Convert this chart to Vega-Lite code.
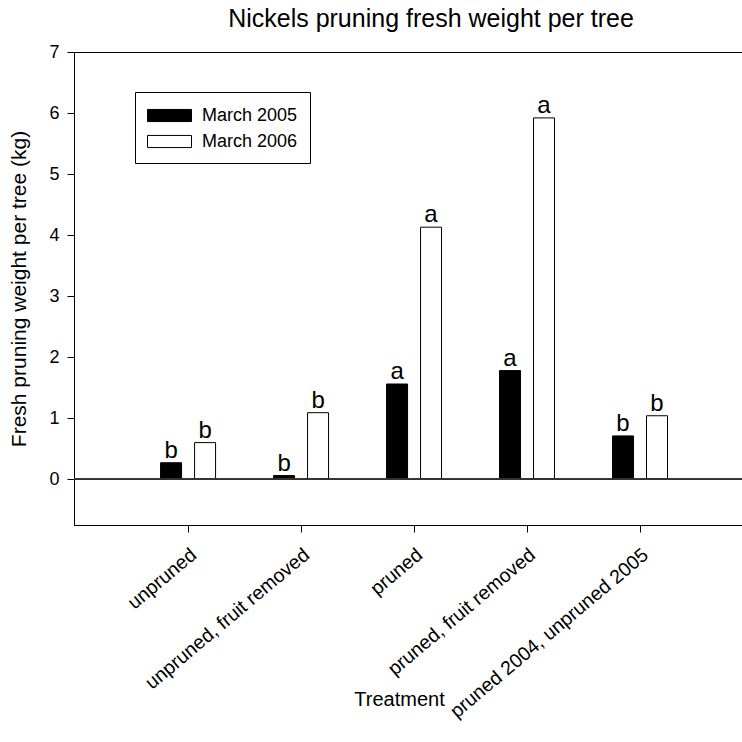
{
  "$schema": "https://vega.github.io/schema/vega-lite/v6.json",
  "autosize": {"type": "none"},
  "padding": {"left": 74, "top": 52, "right": 0, "bottom": 217},
  "width": 670,
  "height": 473,
  "background": "white",
  "title": {
    "text": "Nickels pruning fresh weight per tree",
    "font": "Liberation Sans",
    "fontSize": 25,
    "fontWeight": "normal",
    "color": "black",
    "anchor": "middle",
    "dx": 22,
    "offset": 11
  },
  "data": {
    "values": [
      {"Treatment": "unpruned", "Year": "March 2005", "weight": 0.27, "letter": "b"},
      {"Treatment": "unpruned", "Year": "March 2006", "weight": 0.60, "letter": "b"},
      {"Treatment": "unpruned, fruit removed", "Year": "March 2005", "weight": 0.06, "letter": "b"},
      {"Treatment": "unpruned, fruit removed", "Year": "March 2006", "weight": 1.09, "letter": "b"},
      {"Treatment": "pruned", "Year": "March 2005", "weight": 1.56, "letter": "a"},
      {"Treatment": "pruned", "Year": "March 2006", "weight": 4.13, "letter": "a"},
      {"Treatment": "pruned, fruit removed", "Year": "March 2005", "weight": 1.78, "letter": "a"},
      {"Treatment": "pruned, fruit removed", "Year": "March 2006", "weight": 5.92, "letter": "a"},
      {"Treatment": "pruned 2004, unpruned 2005", "Year": "March 2005", "weight": 0.71, "letter": "b"},
      {"Treatment": "pruned 2004, unpruned 2005", "Year": "March 2006", "weight": 1.04, "letter": "b"}
    ]
  },
  "encoding": {
    "x": {
      "field": "Treatment",
      "type": "nominal",
      "sort": null,
      "scale": {"paddingInner": 0, "paddingOuter": 0.465, "align": 0.548},
      "axis": {
        "title": "Treatment",
        "titleFontSize": 20,
        "titleX": 325,
        "titleY": 164,
        "titleBaseline": "top",
        "labelAngle": -40,
        "labelFontSize": 19.5,
        "labelPadding": 13,
        "labelLimit": 400,
        "tickSize": 7
      }
    },
    "xOffset": {
      "field": "Year",
      "type": "nominal",
      "scale": {"paddingInner": 0.382, "paddingOuter": 0.853}
    },
    "y": {
      "field": "weight",
      "type": "quantitative",
      "scale": {"domain": [-0.75, 7], "nice": false, "zero": false},
      "axis": {
        "title": "Fresh pruning weight per tree (kg)",
        "titleFontSize": 21,
        "titlePadding": 19,
        "values": [0, 1, 2, 3, 4, 5, 6, 7],
        "labelFontSize": 18,
        "labelPadding": 8,
        "tickSize": 7,
        "grid": false
      }
    }
  },
  "layer": [
    {
      "mark": {"type": "bar", "stroke": "black", "strokeWidth": 1},
      "encoding": {
        "fill": {
          "field": "Year",
          "type": "nominal",
          "scale": {"range": ["black", "white"]},
          "legend": {
            "title": null,
            "orient": "none",
            "legendX": 61,
            "legendY": 40,
            "symbolType": "M-1,-0.55H3V0.55H-1Z",
            "symbolSize": 484,
            "symbolStrokeColor": "black",
            "symbolStrokeWidth": 1,
            "labelOffset": 32,
            "labelFontSize": 18,
            "padding": 12,
            "rowPadding": 5,
            "strokeColor": "black",
            "fillColor": "white"
          }
        }
      }
    },
    {
      "mark": {"type": "text", "fontSize": 24, "dy": -5, "baseline": "alphabetic", "color": "black"},
      "encoding": {"text": {"field": "letter"}}
    },
    {
      "mark": {"type": "rule", "color": "#333333", "strokeWidth": 1},
      "encoding": {"y": {"datum": 0}, "x": {"value": 0}, "x2": {"value": 670}, "xOffset": null}
    }
  ],
  "config": {
    "font": "Liberation Sans",
    "view": {"stroke": "black", "strokeWidth": 1},
    "axis": {
      "domainColor": "black",
      "tickColor": "black",
      "labelColor": "black",
      "titleColor": "black",
      "titleFontWeight": "normal",
      "labelFont": "Liberation Sans",
      "titleFont": "Liberation Sans"
    },
    "legend": {"labelColor": "black", "labelFont": "Liberation Sans"}
  }
}
